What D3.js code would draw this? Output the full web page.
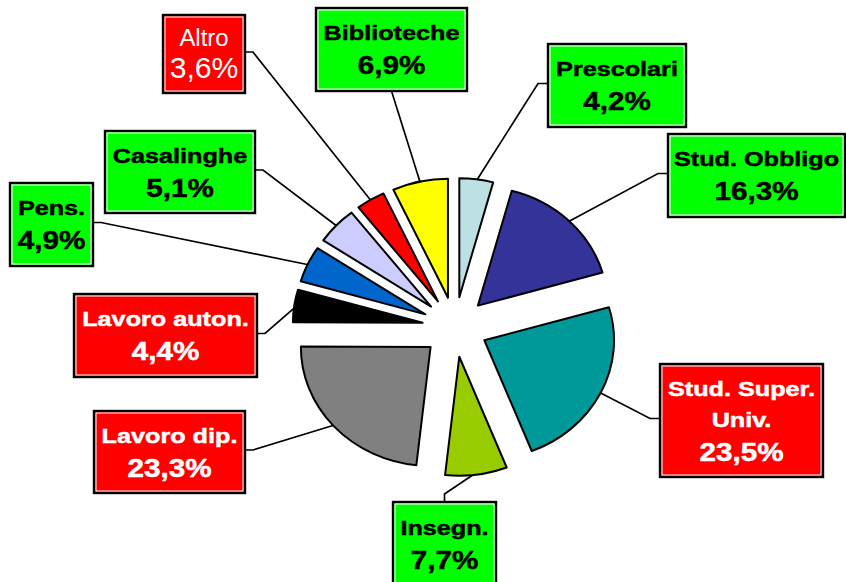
<!DOCTYPE html>
<html>
<head>
<meta charset="utf-8">
<script src="https://cdn.jsdelivr.net/npm/d3@7"></script>
<style>
  body { margin: 0; background: #fff; }
  svg { display: block; font-family: "Liberation Sans", Arial, sans-serif; }
</style>
</head>
<body>
<svg id="chart"></svg>
<script>
// slices, clockwise from 12 o'clock
var categories = ["Prescolari", "Stud. Obbligo", "Stud. Super. Univ.", "Insegn.", "Lavoro dip.",
                  "Lavoro auton.", "Pens.", "Casalinghe", "Altro", "Biblioteche"];
var values = [4.2, 16.3, 23.5, 7.7, 23.3, 4.4, 4.9, 5.1, 3.6, 6.9];
var labelLines = [["Prescolari"], ["Stud. Obbligo"], ["Stud. Super.", "Univ."], ["Insegn."], ["Lavoro dip."],
                  ["Lavoro auton."], ["Pens."], ["Casalinghe"], ["Altro"], ["Biblioteche"]];
var sliceColors = ["#BCE0E4", "#333399", "#009999", "#99CC00", "#808080",
                   "#000000", "#0066CC", "#CCCCFF", "#FF0000", "#FFFF00"];

// label boxes: [x0, y0, x1, y1], side the leader leaves from, box colour
var boxes = [
  [548, 44, 686, 127, "left", "green"],
  [668, 134, 845, 217, "left", "green"],
  [660, 364, 823, 477, "left", "red"],
  [393, 502, 496, 586, "top", "green"],
  [94, 411, 245, 493, "right", "red"],
  [74, 294, 257, 377, "right", "red"],
  [10, 183, 93, 266, "right", "green"],
  [105, 131, 255, 213, "right", "green"],
  [163, 15, 245, 93, "right", "red"],
  [316, 8, 467, 91, "bottom", "green"]
];

var W = 846, H = 582;
var cx = 455, cy = 327, r = 119, explode = 30, sx = 1.09;

var itFormat = d3.formatLocale({decimal: ",", thousands: ".", grouping: [3], currency: ["", "€"]});
var pct = itFormat.format(".1f");

var svg = d3.select("#chart").attr("width", W).attr("height", H);

var data = categories.map(function(c, i) { return {name: c, value: values[i], i: i}; });
var arcs = d3.pie().sort(null).value(function(d) { return d.value; })(data);
var arc = d3.arc().innerRadius(0).outerRadius(r);

function mid(a) { return (a.startAngle + a.endAngle) / 2; }

// leader lines first so slices sit on top
var leaders = svg.append("g");
arcs.forEach(function(a) {
  var b = boxes[a.index], m = mid(a);
  var ex = cx + sx * (explode + r - 2) * Math.sin(m);
  var ey = cy - (explode + r - 2) * Math.cos(m);
  var pts;
  if (b[4] == "left") { var y = (b[1] + b[3]) / 2 - 2; pts = [[b[0], y], [b[0] - 10, y], [ex, ey]]; }
  else if (b[4] == "right") { var y = (b[1] + b[3]) / 2 - 2; pts = [[b[2], y], [b[2] + 8, y], [ex, ey]]; }
  else if (b[4] == "top") { var x = (b[0] + b[2]) / 2; pts = [[x, b[1]], [x, b[1] - 8], [ex, ey]]; }
  else { var x = (b[0] + b[2]) / 2; pts = [[x, b[3]], [ex, ey]]; }
  leaders.append("path")
    .attr("d", d3.line()(pts))
    .attr("fill", "none")
    .attr("stroke", "#000")
    .attr("stroke-width", 1.7);
});

var pie = svg.append("g")
  .attr("transform", "translate(" + cx + "," + cy + ") scale(" + sx + ",1)");

pie.selectAll("path")
  .data(arcs)
  .enter().append("path")
  .attr("transform", function(a) {
    var m = mid(a);
    return "translate(" + (explode * Math.sin(m)) + "," + (-explode * Math.cos(m)) + ")";
  })
  .attr("d", arc)
  .attr("fill", function(a) { return sliceColors[a.index]; })
  .attr("stroke", "#000")
  .attr("stroke-width", 2)
  .attr("stroke-linejoin", "round")
  .attr("vector-effect", "non-scaling-stroke");

// text styles: bold black/white labels, Altro is plain
var bold = {weight: "bold", nameSize: 21, nameScale: 1.2, pctSize: 26, pctScale: 1.14, lineGap: 31, pctGap: 34, halo: 0.5};
var plain = {weight: "normal", nameSize: 23, nameScale: 1.04, pctSize: 29, pctScale: 1.04, lineGap: 32, pctGap: 32, halo: 0};

var labels = svg.append("g");
arcs.forEach(function(a) {
  var b = boxes[a.index];
  var st = a.data.name == "Altro" ? plain : bold;
  var fill = b[5] == "red" ? "#FF0000" : "#00FF00";
  var txt = b[5] == "red" ? "#FFFFFF" : "#000000";
  var g = labels.append("g");
  g.append("rect")
    .attr("x", b[0]).attr("y", b[1])
    .attr("width", b[2] - b[0]).attr("height", b[3] - b[1])
    .attr("fill", fill)
    .attr("stroke", "#000").attr("stroke-width", 2.4);
  g.append("rect")
    .attr("x", b[0] + 2).attr("y", b[1] + 2)
    .attr("width", b[2] - b[0] - 4).attr("height", b[3] - b[1] - 4)
    .attr("fill", "none")
    .attr("stroke", "#fff").attr("stroke-width", 1);

  var lines = labelLines[a.index];
  var capName = st.nameSize * 0.716;
  var block = capName + st.lineGap * (lines.length - 1) + st.pctGap;
  var bx = (b[0] + b[2]) / 2;
  var base = (b[1] + b[3]) / 2 - block / 2 + capName;
  lines.forEach(function(t, k) {
    g.append("text")
      .attr("transform", "translate(" + bx + "," + (base + k * st.lineGap) + ") scale(" + st.nameScale + ",1)")
      .attr("text-anchor", "middle")
      .attr("font-size", st.nameSize)
      .attr("font-weight", st.weight)
      .attr("fill", txt)
      .attr("stroke", txt)
      .attr("stroke-width", st.halo)
      .text(t);
  });
  g.append("text")
    .attr("transform", "translate(" + bx + "," + (base + (lines.length - 1) * st.lineGap + st.pctGap) + ") scale(" + st.pctScale + ",1)")
    .attr("text-anchor", "middle")
    .attr("font-size", st.pctSize)
    .attr("font-weight", st.weight)
    .attr("fill", txt)
    .attr("stroke", txt)
    .attr("stroke-width", st.halo)
    .text(pct(a.data.value) + "%");
});
</script>
</body>
</html>
